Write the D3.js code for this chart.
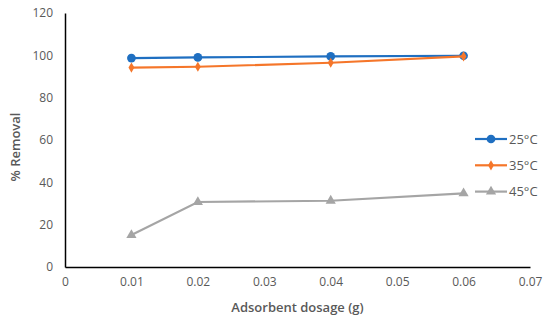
<!DOCTYPE html>
<html>
<head>
<meta charset="utf-8">
<script src="https://cdn.jsdelivr.net/npm/d3@7"></script>
<style>
  body { margin: 0; background: #fff; }
  svg text { font-family: "Open Sans", "Liberation Sans", sans-serif; fill: #595959; }
</style>
</head>
<body>
<div id="chart"></div>
<script>
// chart data
const dosages = [0.01, 0.02, 0.04, 0.06];
const removal25 = [98.7, 99.0, 99.5, 99.8];
const removal35 = [94.2, 94.6, 96.5, 99.5];
const removal45 = [15.1, 30.7, 31.3, 34.8];
const seriesNames = ['25\u00B0C', '35\u00B0C', '45\u00B0C'];
const xTicks = [0, 0.01, 0.02, 0.03, 0.04, 0.05, 0.06, 0.07];
const yTicks = [0, 20, 40, 60, 80, 100, 120];

const width = 550, height = 322;
const margin = { top: 13, right: 20, bottom: 55, left: 65 };
const innerWidth = 530 - margin.left;
const innerHeight = height - margin.top - margin.bottom;
const colors = ['#1F6FC1', '#F5762A', '#A5A5A5'];

const svg = d3.select('#chart')
  .append('svg')
  .attr('width', width)
  .attr('height', height);

const g = svg.append('g')
  .attr('transform', `translate(${margin.left},${margin.top})`);

const x = d3.scaleLinear().domain([0, 0.07]).range([0, innerWidth]);
const y = d3.scaleLinear().domain([0, 120]).range([innerHeight, 0]);

// axes
const xAxis = g.append('g')
  .attr('transform', `translate(0,${innerHeight})`)
  .call(d3.axisBottom(x).tickValues(xTicks).tickSize(0).tickPadding(10)
    .tickFormat(d => d === 0 ? '0' : d3.format('.2f')(d)));
const yAxis = g.append('g')
  .call(d3.axisLeft(y).tickValues(yTicks).tickSize(0).tickPadding(12));

[xAxis, yAxis].forEach(a => {
  a.select('.domain').attr('stroke', '#000').attr('stroke-width', 1.5);
  a.selectAll('text').style('font-size', '12px').attr('fill', '#595959');
});

// axis labels
g.append('text')
  .attr('x', innerWidth / 2)
  .attr('y', innerHeight + 45)
  .attr('text-anchor', 'middle')
  .style('font-size', '13px')
  .style('font-weight', '600')
  .text('Adsorbent dosage (g)');

g.append('text')
  .attr('transform', 'rotate(-90)')
  .attr('x', -(innerHeight / 2 + 7))
  .attr('y', -45)
  .attr('text-anchor', 'middle')
  .style('font-size', '13px')
  .style('font-weight', '600')
  .text('% Removal');

const series = [removal25, removal35, removal45];
const symbols = [d3.symbolCircle, d3.symbolDiamond, d3.symbolTriangle];
const symSizes = [60, 30, 45];

const line = d3.line()
  .x((d, i) => x(dosages[i]))
  .y(d => y(d));

series.forEach((vals, si) => {
  g.append('path')
    .datum(vals)
    .attr('fill', 'none')
    .attr('stroke', colors[si])
    .attr('stroke-width', 2.2)
    .attr('d', line);

  g.selectAll(`.pt-${si}`)
    .data(vals)
    .enter()
    .append('path')
    .attr('class', `pt-${si}`)
    .attr('transform', (d, i) => `translate(${x(dosages[i])},${y(d)})`)
    .attr('d', d3.symbol().type(symbols[si]).size(symSizes[si]))
    .attr('fill', colors[si]);
});

// legend
const legend = svg.append('g').attr('transform', 'translate(475,139)');
const items = legend.selectAll('.legend-item')
  .data(seriesNames)
  .enter()
  .append('g')
  .attr('class', 'legend-item')
  .attr('transform', (d, i) => `translate(0,${i * 26.3})`);

items.append('line')
  .attr('x1', 0).attr('x2', 32)
  .attr('stroke', (d, i) => colors[i])
  .attr('stroke-width', 2.2);
items.append('path')
  .attr('transform', 'translate(16,0)')
  .attr('d', (d, i) => d3.symbol().type(symbols[i]).size(symSizes[i])())
  .attr('fill', (d, i) => colors[i]);
items.append('text')
  .attr('x', 34)
  .attr('y', 4.5)
  .style('font-size', '13px')
  .text(d => d);
</script>
</body>
</html>
